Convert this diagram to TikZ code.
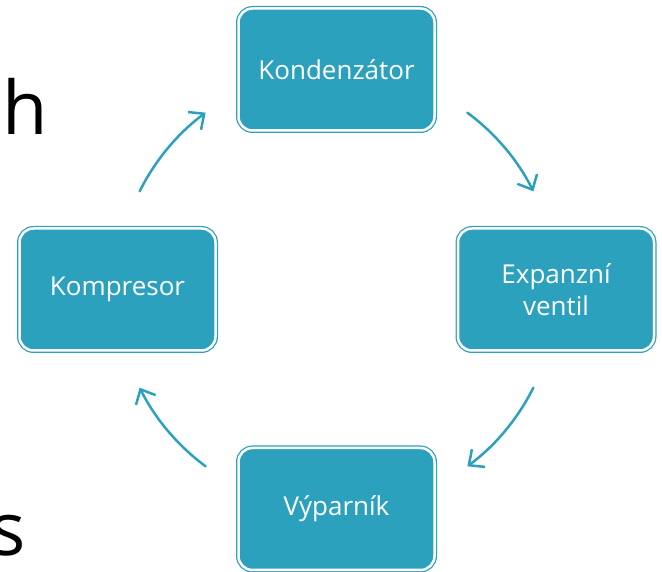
\documentclass[tikz,border=0pt]{standalone}
\usepackage{fontspec}
\setmainfont{Open Sans}
\usetikzlibrary{arrows.meta}
\definecolor{cyclecol}{RGB}{44,161,190}
\tikzset{
  partbox/.style={rectangle, rounded corners=14pt, fill=cyclecol, draw=white,
    line width=2.5pt, preaction={draw=cyclecol, line width=5pt},
    minimum width=196pt, minimum height=122pt, text=white, align=center,
    font=\fontsize{26}{32}\selectfont},
  flow/.style={draw=cyclecol, line width=2.5pt, line cap=round,
    -{Straight Barb[length=12pt,width=22pt,line width=2.5pt]}},
  bigletter/.style={inner sep=0pt, font=\fontsize{74}{80}\selectfont}
}
\begin{document}
\begin{tikzpicture}[x=1pt,y=1pt]
	\clip (0,0) rectangle (662,572);
	\useasboundingbox (0,0) rectangle (662,572);
	% leftovers of the slide text
	\node[bigletter, anchor=base west] (h) at (2,437) {h};
	\node[bigletter, anchor=base east] (s) at (26,16) {s};
	% the four parts
	\coordinate (c) at (336.5,282.5);
	\node[partbox] (kond) at (336.5,502.5) {Kondenzátor};
	\node[partbox] (exp) at (556,282.5) {Expanzní\\ventil};
	\node[partbox] (vyp) at (336.5,63) {Výparník};
	\node[partbox] (komp) at (117.5,282.5) {Kompresor};
	% arrows round the cycle
	\draw[flow] ([shift={(53.5:220)}]c) arc[start angle=53.5, end angle=26.5, radius=220];
	\draw[flow] ([shift={(-26.5:220)}]c) arc[start angle=-26.5, end angle=-53.5, radius=220];
	\draw[flow] ([shift={(-126.5:220)}]c) arc[start angle=-126.5, end angle=-153.5, radius=220];
	\draw[flow] ([shift={(153.5:220)}]c) arc[start angle=153.5, end angle=126.5, radius=220];
\end{tikzpicture}
\end{document}
